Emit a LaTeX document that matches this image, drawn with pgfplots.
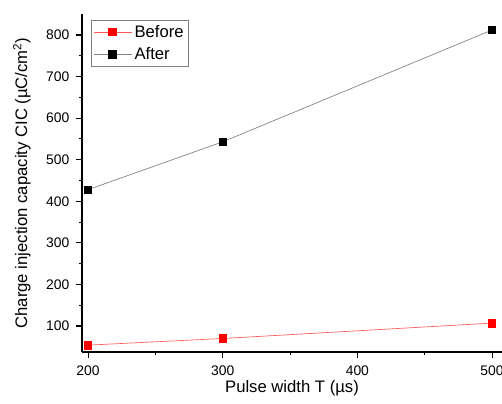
\documentclass[border=0pt]{standalone}
\usepackage{pgfplots}
\pgfplotsset{compat=1.18}
\usepackage{fontspec}
\setmainfont{Liberation Sans}
\begin{document}
\begin{tikzpicture}
\begin{axis}[
  scale only axis,
  width=315pt, height=253.5pt,
  xmin=195.5, xmax=507.4,
  ymin=37.5, ymax=850.5,
  axis x line*=bottom, axis y line*=left,
  axis line style={line width=0.9pt, -},
  tick align=outside,
  major tick length=4.5pt, minor tick length=2.5pt,
  tick style={line width=0.8pt, black},
  xtick={200,300,400,500},
  ytick={100,200,300,400,500,600,700,800},
  minor x tick num=1, minor y tick num=1,
  /pgf/number format/assume math mode=true,
  ticklabel style={font=\fontsize{10.4}{12}\selectfont},
  xticklabel style={yshift=-2pt},
  yticklabel style={xshift=-1.5pt},
  xlabel={Pulse width T (µs)},
  ylabel={Charge injection capacity CIC (µC/cm\textsuperscript{2})},
  label style={font=\fontsize{12.5}{15}\selectfont},
  xlabel style={at={(axis description cs:0.5,-0.1065)}, anchor=center},
  ylabel style={at={(axis description cs:-0.143,0.5)}, anchor=center},
  legend style={at={(axis description cs:0.0214,0.982)}, anchor=north west,
    draw=black!50, line width=0.4pt, font=\fontsize{12.5}{15}\selectfont,
    inner sep=1.5pt, row sep=2pt},
  legend cell align=left,
  legend image code/.code={\draw[mark repeat=2,mark phase=2,#1] plot coordinates {(0cm,0cm) (0.5cm,0cm) (1cm,0cm)};},
]
\addplot[color=red!65, line width=0.5pt, mark=square*, mark size=2.8pt, mark options={fill=red, draw=red, solid}]
  coordinates {(200,54) (300,70) (500,107)};
\addlegendentry{Before}
\addplot[color=black!50, line width=0.5pt, mark=square*, mark size=2.8pt, mark options={fill=black, draw=black, solid}]
  coordinates {(200,428) (300,543) (500,812)};
\addlegendentry{After}
\end{axis}
\pgfresetboundingbox
\path[use as bounding box] (-61.5pt,-38.25pt) rectangle (315pt,264pt);
\end{tikzpicture}
\end{document}
